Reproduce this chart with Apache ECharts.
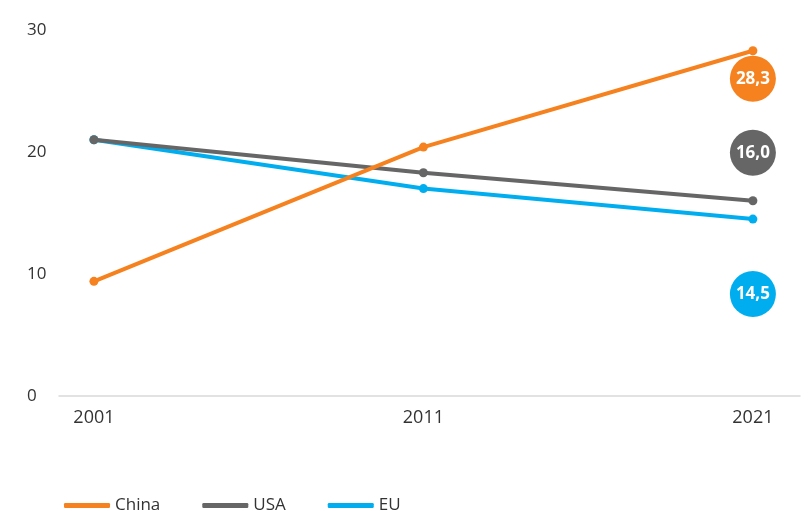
<!DOCTYPE html>
<html>
<head>
<meta charset="utf-8">
<script src="https://cdn.jsdelivr.net/npm/echarts@6/dist/echarts.min.js"></script>
<style>html,body{margin:0;padding:0;background:#fff}#c{width:810px;height:511px}</style>
</head>
<body>
<div id="c"></div>
<script>
const years = [2001, 2011, 2021];
const seriesNames = ['China', 'USA', 'EU'];
const china = [9.4, 20.4, 28.3];
const usa = [21.0, 18.3, 16.0];
const eu = [21.0, 17.0, 14.5];
const yTicks = [0, 10, 20, 30];

const colors = {China: '#F5821F', USA: '#666666', EU: '#00AEEF'};
const values = {China: china, USA: usa, EU: eu};
const endOffsets = {China: [0, 28], USA: [0, -48], EU: [0, 75]};
const zs = {China: 4, USA: 3, EU: 2};
const font = '"Open Sans", "Noto Sans", sans-serif';

const chart = echarts.init(document.getElementById('c'));
chart.setOption({
  animation: false,
  textStyle: {fontFamily: font},
  grid: {left: 59, right: 10, top: 30, bottom: 115},
  legend: {
    data: seriesNames,
    left: 59, top: 492,
    itemWidth: 46, itemHeight: 5, itemGap: 42,
    icon: 'roundRect',
    textStyle: {fontSize: 17, color: '#333', fontFamily: font}
  },
  xAxis: {
    type: 'value',
    min: 1999.94, max: 2022.43,
    splitLine: {show: false},
    axisTick: {show: false},
    axisLine: {show: true, lineStyle: {color: '#d9d9d9', width: 1.5}},
    axisLabel: {
      customValues: years,
      fontSize: 18, color: '#333', margin: 13,
      formatter: v => String(v)
    }
  },
  yAxis: {
    type: 'value',
    min: 0, max: 30, interval: 10,
    splitLine: {show: false},
    axisLine: {show: false},
    axisTick: {show: false},
    axisLabel: {fontSize: 17, color: '#333', align: 'left', margin: 32,
      customValues: yTicks}
  },
  series: seriesNames.map(name => ({
    name: name,
    type: 'line',
    z: zs[name],
    data: values[name].map((v, i) => {
      const item = {value: [years[i], v]};
      if (i === years.length - 1) {
        item.label = {
          show: true,
          position: 'inside',
          offset: endOffsets[name],
          formatter: p => p.value[1].toFixed(1).replace('.', ','),
          backgroundColor: colors[name],
          color: '#fff',
          fontWeight: 'bold',
          fontSize: 17,
          width: 46, height: 46, lineHeight: 46,
          align: 'center', verticalAlign: 'middle',
          borderRadius: 23,
          padding: 0
        };
      }
      return item;
    }),
    symbol: 'circle',
    symbolSize: 9,
    lineStyle: {width: 4, color: colors[name]},
    itemStyle: {color: colors[name]},
    label: {show: false}
  }))
});
</script>
</body>
</html>
